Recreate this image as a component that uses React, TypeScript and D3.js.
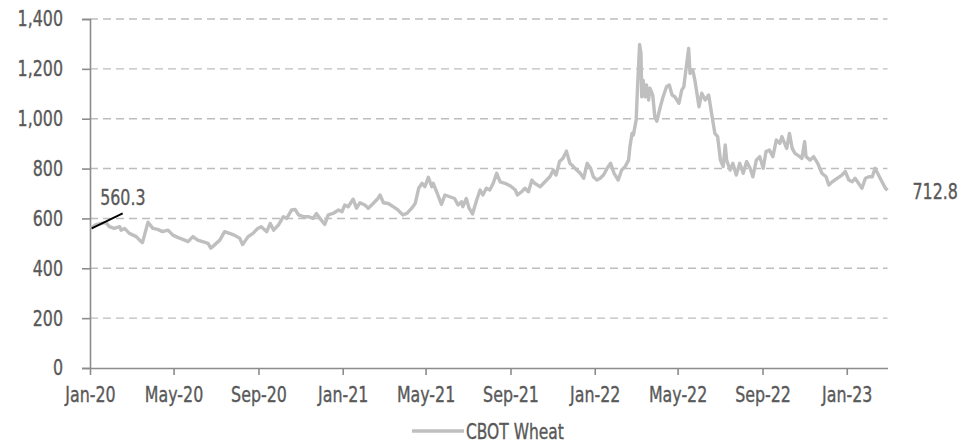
import * as d3 from "d3";
import React, { useEffect, useRef } from "react";

// CBOT wheat, US cents per bushel
const wheat2020: [string, number][] = [
    ["2020-01-02", 560.3], ["2020-01-09", 574], ["2020-01-17", 580], ["2020-01-24", 583], ["2020-01-29", 567],
    ["2020-02-05", 560], ["2020-02-13", 567], ["2020-02-15", 553], ["2020-02-20", 560], ["2020-02-27", 540],
    ["2020-03-08", 527], ["2020-03-15", 507], ["2020-03-17", 503], ["2020-03-25", 585], ["2020-04-01", 560],
    ["2020-04-08", 556], ["2020-04-15", 547], ["2020-04-23", 553], ["2020-04-30", 533], ["2020-05-07", 524],
    ["2020-05-17", 513], ["2020-05-22", 507], ["2020-05-29", 527], ["2020-06-05", 513], ["2020-06-12", 507],
    ["2020-06-20", 500], ["2020-06-24", 481], ["2020-06-29", 493], ["2020-07-07", 513], ["2020-07-14", 547],
    ["2020-07-21", 540], ["2020-07-28", 533], ["2020-08-05", 520], ["2020-08-09", 495], ["2020-08-17", 527],
    ["2020-08-24", 540], ["2020-08-31", 560], ["2020-09-05", 567], ["2020-09-13", 547], ["2020-09-18", 580],
    ["2020-09-23", 553], ["2020-09-30", 574], ["2020-10-07", 607], ["2020-10-12", 600], ["2020-10-19", 634],
    ["2020-10-24", 636], ["2020-10-29", 614], ["2020-11-05", 607], ["2020-11-12", 607], ["2020-11-19", 600],
    ["2020-11-24", 620], ["2020-11-29", 600], ["2020-12-06", 576], ["2020-12-11", 614], ["2020-12-18", 620],
    ["2020-12-26", 634], ["2020-12-31", 627],
];

const wheat2021: [string, number][] = [
    ["2021-01-04", 654], ["2021-01-09", 647], ["2021-01-16", 677], ["2021-01-21", 641], ["2021-01-26", 663],
    ["2021-02-02", 654], ["2021-02-07", 641], ["2021-02-14", 660], ["2021-02-21", 680], ["2021-02-24", 694],
    ["2021-03-01", 663], ["2021-03-08", 660], ["2021-03-15", 647], ["2021-03-22", 634], ["2021-03-29", 614],
    ["2021-04-04", 620], ["2021-04-11", 641], ["2021-04-16", 660], ["2021-04-21", 721], ["2021-04-26", 741],
    ["2021-04-30", 727], ["2021-05-05", 765], ["2021-05-10", 727], ["2021-05-12", 741], ["2021-05-17", 707],
    ["2021-05-24", 656], ["2021-05-29", 694], ["2021-06-05", 687], ["2021-06-12", 680], ["2021-06-17", 654],
    ["2021-06-22", 667], ["2021-06-24", 647], ["2021-06-29", 680], ["2021-07-03", 641], ["2021-07-08", 618],
    ["2021-07-14", 674], ["2021-07-19", 714], ["2021-07-23", 694], ["2021-07-28", 721], ["2021-08-02", 714],
    ["2021-08-07", 741], ["2021-08-12", 781], ["2021-08-17", 747], ["2021-08-24", 741], ["2021-09-01", 730],
    ["2021-09-08", 714], ["2021-09-11", 694], ["2021-09-17", 707], ["2021-09-22", 721], ["2021-09-27", 707],
    ["2021-10-02", 754], ["2021-10-06", 741], ["2021-10-14", 727], ["2021-10-21", 747], ["2021-10-28", 767],
    ["2021-11-02", 794], ["2021-11-06", 774], ["2021-11-11", 828], ["2021-11-16", 841], ["2021-11-21", 870],
    ["2021-11-26", 821], ["2021-12-01", 808], ["2021-12-06", 794], ["2021-12-11", 781], ["2021-12-16", 761],
    ["2021-12-21", 821], ["2021-12-26", 801], ["2021-12-30", 767],
];

const wheat2022: [string, number][] = [
    ["2022-01-04", 754], ["2022-01-09", 761], ["2022-01-14", 775], ["2022-01-19", 801], ["2022-01-24", 821],
    ["2022-01-29", 781], ["2022-02-04", 754], ["2022-02-09", 794], ["2022-02-14", 808], ["2022-02-19", 834],
    ["2022-02-21", 888], ["2022-02-24", 941], ["2022-02-26", 935], ["2022-03-02", 995], ["2022-03-04", 1128],
    ["2022-03-07", 1298], ["2022-03-09", 1262], ["2022-03-10", 1088], ["2022-03-12", 1155], ["2022-03-15", 1088],
    ["2022-03-17", 1135], ["2022-03-20", 1075], ["2022-03-22", 1122], ["2022-03-26", 1095], ["2022-03-29", 1008],
    ["2022-04-01", 990], ["2022-04-06", 1048], ["2022-04-10", 1088], ["2022-04-15", 1128], ["2022-04-19", 1135],
    ["2022-04-23", 1095], ["2022-04-27", 1088], ["2022-05-03", 1062], ["2022-05-07", 1115], ["2022-05-10", 1128],
    ["2022-05-13", 1195], ["2022-05-17", 1282], ["2022-05-19", 1182], ["2022-05-23", 1195], ["2022-05-26", 1155],
    ["2022-06-01", 1048], ["2022-06-05", 1102], ["2022-06-10", 1075], ["2022-06-15", 1095], ["2022-06-20", 1008],
    ["2022-06-24", 941], ["2022-06-28", 928], ["2022-07-02", 834], ["2022-07-06", 808], ["2022-07-09", 895],
    ["2022-07-11", 834], ["2022-07-16", 794], ["2022-07-20", 821], ["2022-07-25", 774], ["2022-07-30", 821],
    ["2022-08-04", 781], ["2022-08-09", 828], ["2022-08-14", 801], ["2022-08-18", 767], ["2022-08-23", 834],
    ["2022-08-28", 848], ["2022-09-02", 801], ["2022-09-06", 868], ["2022-09-11", 874], ["2022-09-16", 848],
    ["2022-09-21", 915], ["2022-09-26", 901], ["2022-09-29", 928], ["2022-10-03", 901], ["2022-10-06", 881],
    ["2022-10-10", 941], ["2022-10-14", 881], ["2022-10-18", 861], ["2022-10-25", 848], ["2022-10-28", 841],
    ["2022-11-01", 908], ["2022-11-03", 848], ["2022-11-09", 834], ["2022-11-14", 848], ["2022-11-20", 821],
    ["2022-11-26", 781], ["2022-12-02", 767], ["2022-12-06", 734], ["2022-12-11", 747], ["2022-12-18", 761],
    ["2022-12-25", 774], ["2022-12-30", 788],
];

const wheat2023: [string, number][] = [
    ["2023-01-04", 754], ["2023-01-09", 747], ["2023-01-13", 761], ["2023-01-18", 741], ["2023-01-23", 721],
    ["2023-01-28", 761], ["2023-02-02", 767], ["2023-02-07", 767], ["2023-02-11", 801], ["2023-02-16", 774],
    ["2023-02-21", 747], ["2023-02-26", 721], ["2023-03-01", 712.8],
];

const xStart = "2020-01-01";
const xEnd = "2023-03-01";
const xTickDates = ["2020-01-01", "2020-05-01", "2020-09-01", "2021-01-01", "2021-05-01", "2021-09-01",
    "2022-01-01", "2022-05-01", "2022-09-01", "2023-01-01"];
const yTicks = [0, 200, 400, 600, 800, 1000, 1200, 1400];
const seriesName = "CBOT Wheat";

const FONT = "'DejaVu Sans Condensed', 'Liberation Sans Narrow', sans-serif";
const TEXT = "#595959";
const SQUEEZE = 0.82; // the original face is narrower than anything installed

// narrow text horizontally around its own anchor point, and thicken it a touch
function squeeze(sel: d3.Selection<any, any, any, any>) {
    sel.each(function () {
        const t = d3.select(this);
        const ax = +(t.attr("x") || 0);
        const ay = +(t.attr("y") || 0);
        t.attr("transform", `translate(${ax},${ay}) scale(${SQUEEZE},1) translate(${-ax},${-ay})`)
            .attr("stroke", TEXT)
            .attr("stroke-width", 0.35);
    });
}

export default function App() {
    const svgRef = useRef<SVGSVGElement>(null);

    useEffect(() => {
        const svgWidth = 979;
        const svgHeight = 445;
        const margin = { top: 19, right: 92, bottom: 77, left: 90 };
        const parse = d3.timeParse("%Y-%m-%d");

        const data = [...wheat2020, ...wheat2021, ...wheat2022, ...wheat2023]
            .map(([d, v]) => ({ date: parse(d) as Date, value: v }));

        const svg = d3.select(svgRef.current)
            .attr("viewBox", [0, 0, svgWidth, svgHeight].join(" "))
            .attr("width", svgWidth)
            .attr("height", svgHeight)
            .style("font-family", FONT);
        svg.selectAll("*").remove();

        const x = d3.scaleTime()
            .domain([parse(xStart) as Date, parse(xEnd) as Date])
            .range([margin.left, svgWidth - margin.right + 0.5]);
        const y = d3.scaleLinear()
            .domain([0, 1400])
            .range([svgHeight - margin.bottom, margin.top]);

        // dashed gridlines
        svg.append("g")
            .selectAll("line")
            .data(yTicks.filter(t => t > 0))
            .enter().append("line")
            .attr("x1", x.range()[0])
            .attr("x2", x.range()[1])
            .attr("y1", d => y(d))
            .attr("y2", d => y(d))
            .attr("stroke", "#bdbdbd")
            .attr("stroke-width", 1.4)
            .attr("stroke-dasharray", "8,5");

        // y axis
        const yAxis = d3.axisLeft(y)
            .tickValues(yTicks)
            .tickSize(8)
            .tickPadding(19)
            .tickFormat(d3.format(","));
        const yg = svg.append("g")
            .attr("transform", `translate(${margin.left},0)`)
            .call(yAxis);
        yg.select(".domain").attr("stroke", "#8c8c8c").attr("stroke-width", 1.6);
        yg.selectAll(".tick line").attr("stroke", "#8c8c8c").attr("stroke-width", 1.6);
        yg.selectAll(".tick text")
            .attr("fill", TEXT)
            .style("font-size", "21.5px")
            .style("font-family", FONT)
            .call(squeeze);

        // x axis
        const xAxis = d3.axisBottom(x)
            .tickValues(xTickDates.map(d => parse(d) as Date))
            .tickSize(7)
            .tickSizeOuter(0)
            .tickPadding(12)
            .tickFormat(d => d3.timeFormat("%b-%y")(d as Date));
        const xg = svg.append("g")
            .attr("transform", `translate(0,${y(0)})`)
            .call(xAxis);
        xg.select(".domain").attr("stroke", "#8c8c8c").attr("stroke-width", 1.6);
        xg.selectAll(".tick line").attr("stroke", "#8c8c8c").attr("stroke-width", 1.6);
        xg.selectAll(".tick text")
            .attr("fill", TEXT)
            .style("font-size", "21.5px")
            .style("font-family", FONT)
            .call(squeeze);

        // price line
        const line = d3.line<{ date: Date; value: number }>()
            .x(d => x(d.date))
            .y(d => y(d.value));
        svg.append("path")
            .datum(data)
            .attr("fill", "none")
            .attr("stroke", "#bfbfbf")
            .attr("stroke-width", 3.4)
            .attr("stroke-linejoin", "round")
            .attr("d", line);

        // first value callout
        const first = data[0];
        const last = data[data.length - 1];
        const fx = x(first.date);
        const fy = y(first.value);
        svg.append("line")
            .attr("x1", fx + 1)
            .attr("y1", fy)
            .attr("x2", fx + 32)
            .attr("y2", fy - 15)
            .attr("stroke", "#000")
            .attr("stroke-width", 1.8);
        svg.append("text")
            .attr("x", fx + 9.5)
            .attr("y", fy - 23)
            .attr("fill", TEXT)
            .style("font-size", "21.5px")
            .text(d3.format(".1f")(first.value))
            .call(squeeze);

        // last value label
        svg.append("text")
            .attr("x", x(last.date) + 25)
            .attr("y", y(last.value) + 8.5)
            .attr("fill", TEXT)
            .style("font-size", "21.5px")
            .text(d3.format(".1f")(last.value))
            .call(squeeze);

        // legend
        const legend = svg.append("g")
            .attr("transform", `translate(412,431)`);
        legend.append("line")
            .attr("x1", 0)
            .attr("x2", 52)
            .attr("stroke", "#bfbfbf")
            .attr("stroke-width", 3.4);
        legend.append("text")
            .attr("x", 54)
            .attr("y", 8)
            .attr("fill", TEXT)
            .style("font-size", "21px")
            .text(seriesName)
            .call(squeeze);

        return () => {
            svg.selectAll("*").remove();
        };
    }, []);

    return (
        <svg ref={svgRef} style={{ position: "absolute", left: 0, top: 0, background: "#fff" }}></svg>
    );
}
